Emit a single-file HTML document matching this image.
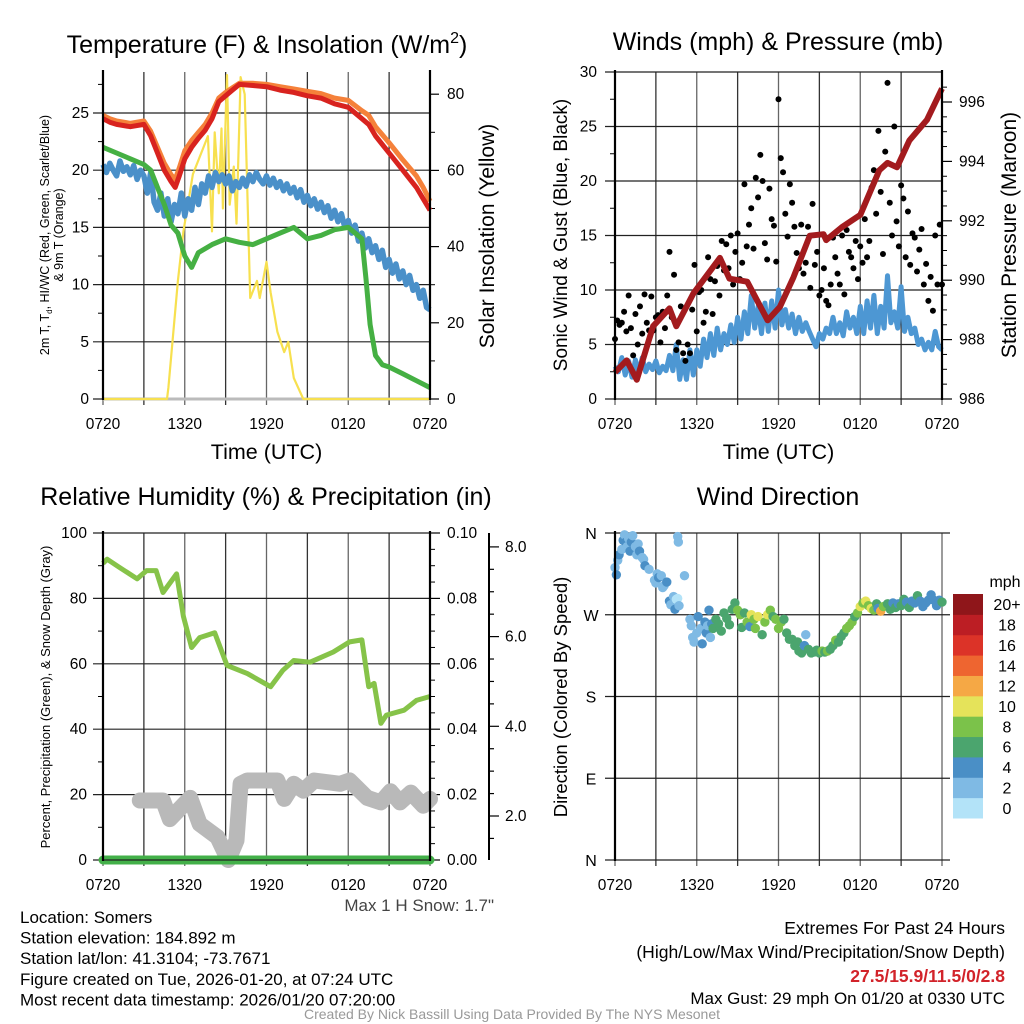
<!DOCTYPE html>
<html><head><meta charset="utf-8"><style>
html,body{margin:0;padding:0;background:#fff;}
svg{display:block;font-family:"Liberation Sans",sans-serif;}
</style></head><body>
<svg id="fig" width="1024" height="1024" viewBox="0 0 1024 1024" xmlns="http://www.w3.org/2000/svg"></svg>
<script>
// ---------- DATA ----------
const tickHours = [0, 6, 12, 18, 24];
const tickLabels = ["0720", "1320", "1920", "0120", "0720"];

// Panel 1 temperature
const tempHours = [0,0.5,1,2,3,3.5,4,4.5,5,5.3,5.6,6,6.5,7,7.5,8,8.5,9,9.5,10,11,12,13,14,15,16,17,18,19,19.5,20,21,22,23,23.5,24];
const tempRed   = [24.5,24.2,24,23.8,24,23,21.5,20,19,18.5,19.5,21,22,22.8,23.5,24.5,26,26.5,27,27.5,27.4,27.3,27,26.8,26.5,26.3,25.8,25.5,24.5,24,23,21.5,20,18.5,17.5,16.5];
const tempOrange= [24.8,24.5,24.3,24.1,24.3,23.4,22,20.6,19.6,19.2,20.2,21.7,22.6,23.3,24,25,26.3,26.8,27.2,27.6,27.6,27.5,27.3,27.1,26.9,26.7,26.3,26.1,25.2,24.8,23.8,22.4,20.9,19.5,18.5,17.3];
const dewHours = [0,1,2,3,3.5,4,4.5,5,5.5,6,6.5,7,8,9,10,11,12,13,14,15,16,17,18,18.5,19,19.3,19.6,20,20.5,21,22,23,24];
const dewGreen = [22,21.5,21,20.5,20,18.5,17,15.2,14.5,12.5,11.5,12.8,13.5,14,13.7,13.5,14,14.5,15,14,14.3,14.8,15,14.5,14,10.5,6.5,3.8,3,2.8,2.2,1.6,1];
const hiwcBlue = [20.5,19.8,20.6,20.0,19.5,20.8,19.9,20.3,19.6,20.4,19.2,20.0,
 19.5,18.0,19.8,17.2, 16.5,18.0,16.0,17.5, 15.5,17.0,16.2,18.0, 16.0,17.5,16.5,18.5,
 17.0,18.8,18.0,19.5, 18.5,19.8,19.0,19.6, 18.8,19.5,18.2,19.0, 18.5,19.3,18.6,19.6,
 19.0,19.8,19.2,18.8, 19.5,18.7,19.3,18.5, 19.0,18.2,18.8,18.0, 18.5,17.6,18.3,17.2,
 17.8,16.9,17.5,16.6, 17.2,16.3,16.9,15.8, 16.5,15.5,16.2,15.0, 15.6,14.5,15.2,13.8,
 14.5,13.2,14.0,12.8, 13.4,12.2,13.0,11.5, 12.2,11.0,11.8,10.5, 11.2,10.0,10.8,9.5,
 10.0,8.8,9.5,8.0, 7.8];
const solarHours = [0,4.7,4.8,5.5,5.9,6.6,7.7,8.0,8.2,8.5,8.7,8.8,9.1,9.3,9.6,9.8,10.1,10.4,10.8,11.3,11.5,12.0,12.3,12.8,13.3,13.6,14.0,14.7,24];
const solarVals  = [0,0,3,31,44,59,69,44,70,54,71,50,85,51,61,46,84.5,80,26.5,31,26.5,36,28,17.6,12.3,15,5.5,0,0];

// Panel 2 winds / pressure
const windSpeed = [3.0,2.5,3.8,2.2,3.5,2.0,3.6,2.4, 3.8,2.5,3.2,2.7,3.5,2.4,3.0,2.6,
 4.0,2.6,5.0,1.8,3.6,1.8,4.5,2.2, 4.5,3.0,5.5,3.8,6.0,4.0,6.5,4.5, 6.0,5.0,6.8,5.2,7.5,5.5,8.0,6.0,
 9.5,6.5,8.5,6.0,8.8,6.2,9.0,6.5, 10.0,6.8,8.2,6.5,7.8,6.0,7.5,6.2, 7.0,6.2,5.5,4.8,6.0,5.5,6.5,6.0,
 7.5,6.0,7.0,5.8,8.0,6.5,7.5,6.0, 8.5,6.0,9.0,6.5,9.5,6.0,8.5,6.5, 11.3,7.0,8.0,6.5,10.3,6.2,7.5,6.0,
 6.5,5.0,5.5,4.5,5.2,4.5,6.2,4.8, 4.5];
const gustSpeed = [5.5,7.2,6.8,7.0,8.0,6.2, 9.5,6.5,4.0,7.8,5.0,8.5, 6.0,9.6,7.0,6.3,9.4,6.3,
 7.5,7.7,5.2,8.0,6.5,9.5, 13.5,7.5,11.4,4.5,5.2,8.5, 4.2,3.5,5.0,4.2,8.2,12.3, 6.2,9.8,10.0,7.0,8.0,13.0,
 11.0,7.8,10.8,12.2,9.5,14.5, 11.8,14.2,12.0,15.0,10.5,13.5, 15.2,11.0,12.5,19.7,14.0,16.0,
 17.5,13.8,20.3,18.5,22.4,20.0, 14.3,12.8,19.3,16.5,15.9,12.6, 27.5,22.1,20.8,17.0,14.9,19.7,
 18.0,15.8,13.4,12.0,16.0,11.5, 12.5,15.8,10.2,17.9,12.3,13.5, 9.5,10.0,12.0,9.0,8.6,10.5,
 14.8,13.0,11.5,10.5,15.0,9.6, 15.5,13.5,13.0,12.0,14.5,11.0, 14.0,12.5,16.5,13.0,14.5,19.4,
 21.0,17.0,24.6,19.0,13.3,22.7, 29.0,18.0,15.0,25.0,16.3,14.0, 19.6,18.4,13.0,17.2,12.3,15.2,
 14.8,11.7,13.7,15.6,10.5,12.4, 9.0,11.2,8.1,15.0,10.5,16.0, 10.5];
const presHours = [0,0.86,1.6,2.8,4.0,4.5,5.75,7.7,8.4,9.7,11.2,12.1,13.1,14.3,15.3,15.5,16.7,18,19.4,20,20.7,21.6,22.9,24];
const presVals  = [986.9,987.3,986.65,988.45,989.05,988.45,989.55,990.75,990.05,989.95,988.65,989.1,990.1,991.5,991.55,991.35,991.8,992.2,993.7,993.95,993.8,994.7,995.4,996.45];

// Panel 3 RH / precip / snow
const rhHours = [0,0.3,1.2,2.5,3.2,3.9,4.4,5.4,5.9,6.5,7.1,8.2,9.1,10.6,12.3,13.2,14,15.2,16.9,18.1,19,19.5,19.9,20.4,20.8,22.1,23,24];
const rhVals  = [90.7,92,89.5,86,88.5,88.5,81.8,87.5,74.5,65,68,69.5,59.5,57,53,58,61,60.5,63.6,66.7,67.3,53,54,41.8,44.3,45.8,48.8,50];
const precipHours = [0, 24];
const precipVals  = [0, 0];
const snowHours = [2.7,4.4,4.9,6.4,7.1,8.4,9.2,9.8,10.1,10.6,12.8,13.3,14,14.7,15.5,17.4,18.1,19.4,20.4,21.1,21.8,22.6,23.5,24];
const snowVals  = [18.2,18.2,12.5,19,11,7,0,6,23.3,24.3,24.3,18.7,23.3,21.2,24.3,23.3,24.3,19,17.6,21,17.6,20.6,16.6,18.7];

// Panel 4 wind direction
const dirHours = [0,0.1,0.2,0.3,0.5,0.6,0.7,0.8,0.9,1.0,1.1,1.2,1.3,1.5,1.6,1.7,1.8,2.0,2.1,2.2,2.5,2.9,3.0,3.1,3.2,3.4,3.5,3.6,3.8,4.0,4.1,4.3,4.4,4.5,4.6,4.7,4.6,4.65,5.1,
 5.5,5.6,5.7,5.8,6.0,6.1,6.3,6.4,6.6,6.7,6.8,6.9,7.0,7.1,7.2,7.4,7.6,7.8,8.0,8.2,8.4,8.6,8.8,9.0,9.2,9.3,9.5,9.7,9.9,10.0,10.2,10.3,10.5,10.8,11.0,11.2,11.4,11.6,11.8,
 12.0,12.2,12.4,12.6,12.8,13.0,13.2,13.4,13.5,13.7,13.9,14.0,14.2,14.4,14.6,14.8,15.0,15.2,15.4,15.6,15.8,16.0,16.2,16.4,16.6,16.8,17.0,17.2,17.4,17.6,17.8,
 18.0,18.2,18.4,18.6,18.8,19.0,19.2,19.3,19.5,19.7,20.0,20.2,20.4,20.6,20.8,21.0,21.2,21.4,21.6,21.8,22.0,22.2,22.4,22.6,22.8,23.0,23.2,23.4,23.6,23.8,24.0];
const dirDeg = [322,314,330,336,342,352,358,350,345,354,340,350,357,345,336,348,340,333,331,324,320,308,305,315,311,313,300,302,306,285,281,290,276,287,288,280,356,350,313,
 265,258,245,240,250,268,255,238,262,250,258,275,245,260,255,265,260,252,272,266,259,276,283,275,270,256,272,262,257,270,265,255,268,248,262,270,275,268,265,
 255,262,265,250,243,243,236,240,230,228,236,248,232,228,229,231,228,230,229,230,232,236,242,240,246,250,255,258,262,268,272,
 279,283,285,280,277,275,282,277,274,279,282,276,283,278,282,280,287,284,278,285,283,291,285,279,283,286,292,286,280,286,284];
const dirSpd = [2.5,4,2.5,4,3,4,2.5,5,2.5,3,4,4.5,3,2.5,3,2.5,5,3,2.5,4,2.5,2.5,3,2.5,4,3,2.5,3,4,4,2.5,3,4,1,1.5,3,2.5,2.5,2.5,
 2.5,2.5,2.5,2.5,3,4,3,4,4,4,3,4,3,5,6,6,6,7,6,6,6,6,7,8,9,7,6,8,4,10,8,9,10,6,8,10,8,7,9,
 8,8,6,7,6,7,7,6,6,7,5,3.5,6,6,6,6,7,8,7,8,6,7,8,6,6,7,8,8,8,7,8,
 10,9,11,8,10,8,6,5,13,9,6,6,5,6,4,7,6,4,6,4,5,6,4,4,5,4,4,4,5,4,6];
const cbLabels = ["0","2","4","6","8","10","12","14","16","18","20+"];
const cbColors = ["#b3e3f8","#7fbae4","#4a8fc6","#4ba56e","#7bc24a","#e5e35a","#f5a845","#ee6530","#dc3328","#bc1e24","#8f161a"];

// ---------- DRAWING ----------
const NS = "http://www.w3.org/2000/svg";
const svg = document.getElementById("fig");
function el(tag, attrs, parent, text) {
  const e = document.createElementNS(NS, tag);
  for (const k in attrs) e.setAttribute(k, attrs[k]);
  if (text !== undefined) e.textContent = text;
  (parent || svg).appendChild(e);
  return e;
}
function txt(x, y, s, size, anchor, parent, extra) {
  const a = {x: x, y: y, "font-size": size, "text-anchor": anchor || "middle", fill: "#000"};
  if (extra) for (const k in extra) a[k] = extra[k];
  return el("text", a, parent, s);
}
function pathFrom(xs, ys, fx, fy) {
  let d = "";
  for (let i = 0; i < xs.length; i++) d += (i ? "L" : "M") + fx(xs[i]).toFixed(1) + "," + fy(ys[i]).toFixed(1);
  return d;
}
const TICK = 15.5;
function drawTimeAxis(g, x0, x1, y0, y1, fx, withTitle) {
  for (let h = 0; h <= 24; h += 3) {
    const x = fx(h);
    const l = el("line", {x1: x, y1: y0, x2: x, y2: y1 + 6, stroke: h % 6 ? "#333" : "#666", "stroke-width": 1.3}, g);
    
    
  }
  tickHours.forEach((h, i) => {
    const t = txt(fx(h), y1 + 30, tickLabels[i], TICK, "middle", g);
    
    
  });
  if (withTitle) {
    const t = txt((x0 + x1) / 2, y1 + 60, "Time (UTC)", 21.5, "middle", g);
    
    
  }
}
function hGrid(g, x0, x1, y, ext) {
  el("line", {x1: x0 - (ext||10), y1: y, x2: x1, y2: y, stroke: "#222", "stroke-width": 1.2}, g);
}

// ===== Panel 1 =====
(function(){
  const g = el("g", {});  
  const X0 = 103, X1 = 430, Y0 = 72, Y1 = 399;
  const fx = h => X0 + (X1 - X0) * h / 24;
  const fy = v => Y1 - v * 11.44;
  const fyr = v => Y1 - v * 3.81;
  drawTimeAxis(g, X0, X1, Y0, Y1, fx, true);
  for (let v = 0; v <= 25; v += 5) hGrid(g, X0, X1, fy(v));
  for (let v = 2.5; v <= 27.5; v += 5) el("line", {x1: X0-5, y1: fy(v), x2: X0, y2: fy(v), stroke:"#000"}, g);
  for (let v = 0; v <= 25; v += 5) { const t = txt(X0 - 14, fy(v) + 5, String(v), TICK, "end", g);   }
  for (let v = 0; v <= 80; v += 20) {
    el("line", {x1: X1, y1: fyr(v), x2: X1 + 9, y2: fyr(v), stroke:"#000", "stroke-width":1.2}, g);
    const t = txt(X1 + 17, fyr(v) + 5, String(v), TICK, "start", g);  
  }
  for (let v = 10; v <= 80; v += 20) el("line", {x1: X1, y1: fyr(v), x2: X1 + 5, y2: fyr(v), stroke:"#000"}, g);
  el("line", {x1: X0, y1: Y1, x2: X1, y2: Y1, stroke: "#bbb", "stroke-width": 3}, g);
  const sol = el("path", {d: pathFrom(solarHours, solarVals, fx, fyr), fill:"none", stroke:"#f7e04f", "stroke-width":2.2, "stroke-linejoin":"round"}, g);
   
  const bh = hiwcBlue.map((v, i) => i * 0.25);
  const b = el("path", {d: pathFrom(bh, hiwcBlue, fx, fy), fill:"none", stroke:"#4a90c9", "stroke-width":5.5, "stroke-linejoin":"round"}, g);
   
  const gr = el("path", {d: pathFrom(dewHours, dewGreen, fx, fy), fill:"none", stroke:"#45b043", "stroke-width":5, "stroke-linejoin":"round"}, g);
   
  const o = el("path", {d: pathFrom(tempHours, tempOrange, fx, fy), fill:"none", stroke:"#f5813a", "stroke-width":5, "stroke-linejoin":"round"}, g);
   
  const r = el("path", {d: pathFrom(tempHours, tempRed, fx, fy), fill:"none", stroke:"#d8231f", "stroke-width":5, "stroke-linejoin":"round"}, g);
   
  el("line", {x1: X0, y1: Y0 - 2, x2: X0, y2: Y1 + 1, stroke:"#000", "stroke-width":2.2}, g);
  el("line", {x1: X1, y1: Y0 - 2, x2: X1, y2: Y1 + 1, stroke:"#000", "stroke-width":2.2}, g);
  const ttl = el("text", {x: 267, y: 53, "font-size": 25, "text-anchor":"middle"}, g);
   
  ttl.innerHTML = 'Temperature (F) &amp; Insolation (W/m<tspan font-size="16" dy="-10">2</tspan><tspan dy="10">)</tspan>';
  const yt = el("text", {transform: "translate(49,235) rotate(-90)", "font-size": 12.5, "text-anchor":"middle"}, g);
   
  yt.innerHTML = '2m T, T<tspan font-size="8" dy="3">d</tspan><tspan dy="-3">, HI/WC (Red, Green, Scarlet/Blue)</tspan>';
  const yt2 = txt(0, 0, "& 9m T (Orange)", 12.5, "middle", g, {transform: "translate(63,235) rotate(-90)"});
   
  const yr = txt(0, 0, "Solar Insolation (Yellow)", 21, "middle", g, {transform: "translate(494,236) rotate(-90)"});
   
})();

// ===== Panel 2 =====
(function(){
  const g = el("g", {});  
  const X0 = 615, X1 = 942, Y0 = 72, Y1 = 399;
  const fx = h => X0 + (X1 - X0) * h / 24;
  const fy = v => Y1 - v * 10.9;
  const fyr = v => Y1 - (v - 986) * 29.7;
  drawTimeAxis(g, X0, X1, Y0, Y1, fx, true);
  for (let v = 0; v <= 30; v += 5) {
    hGrid(g, X0, X1, fy(v));
    const t = txt(X0 - 18, fy(v) + 5, String(v), TICK, "end", g);  
  }
  for (let v = 2.5; v <= 30; v += 5) el("line", {x1: X0-5, y1: fy(v), x2: X0, y2: fy(v), stroke:"#000"}, g);
  for (let v = 986; v <= 996; v += 2) {
    el("line", {x1: X1, y1: fyr(v), x2: X1 + 10, y2: fyr(v), stroke:"#000", "stroke-width":1.2}, g);
    const t = txt(X1 + 17, fyr(v) + 5, String(v), TICK, "start", g);  
  }
  for (let v = 986.5; v <= 996.5; v += 0.5) if (v % 2) el("line", {x1: X1, y1: fyr(v), x2: X1 + 5, y2: fyr(v), stroke:"#000"}, g);
  const wh = windSpeed.map((v, i) => i * 0.25);
  const w = el("path", {d: pathFrom(wh, windSpeed, fx, fy), fill:"none", stroke:"#4d97d3", "stroke-width":5, "stroke-linejoin":"round"}, g);
   
  gustSpeed.forEach((v, i) => {
    const c = el("circle", {cx: fx(i / 6), cy: fy(v), r: 3, fill: "#000"}, g);
    
    
  });
  const p = el("path", {d: pathFrom(presHours, presVals, fx, fyr), fill:"none", stroke:"#a31b1e", "stroke-width":6, "stroke-linejoin":"round"}, g);
   
  el("line", {x1: X0, y1: Y0 - 2, x2: X0, y2: Y1 + 1, stroke:"#000", "stroke-width":2.2}, g);
  el("line", {x1: X1, y1: Y0 - 2, x2: X1, y2: Y1 + 1, stroke:"#000", "stroke-width":2.2}, g);
  const ttl = txt(778, 50, "Winds (mph) & Pressure (mb)", 25, "middle", g);  
  const yt = txt(0, 0, "Sonic Wind & Gust (Blue, Black)", 19, "middle", g, {transform: "translate(567,235) rotate(-90)"});
   
  const yr = txt(0, 0, "Station Pressure (Maroon)", 21, "middle", g, {transform: "translate(1016,235) rotate(-90)"});
   
})();

// ===== Panel 3 =====
(function(){
  const g = el("g", {});  
  const X0 = 103, X1 = 430, Y0 = 533, Y1 = 860;
  const fx = h => X0 + (X1 - X0) * h / 24;
  const fy = v => Y1 - v * 3.27;
  drawTimeAxis(g, X0, X1, Y0, Y1, fx, false);
  for (let v = 0; v <= 100; v += 20) {
    hGrid(g, X0, X1, fy(v));
    const t = txt(X0 - 16, fy(v) + 5, String(v), TICK, "end", g);  
    el("line", {x1: X1, y1: fy(v), x2: X1 + 10, y2: fy(v), stroke:"#000", "stroke-width":1.2}, g);
    const t2 = txt(X1 + 17, fy(v) + 5, (v / 1000).toFixed(2), TICK, "start", g);  
  }
  for (let v = 10; v <= 90; v += 20) el("line", {x1: X0-5, y1: fy(v), x2: X0, y2: fy(v), stroke:"#000"}, g);
  for (let v = 5; v < 100; v += 5) if (v % 20) el("line", {x1: X1, y1: fy(v), x2: X1 + 5, y2: fy(v), stroke:"#000"}, g);
  const SX = 489;
  const fs = v => 905.7 - v * 44.85;
  el("line", {x1: SX, y1: Y0, x2: SX, y2: Y1, stroke:"#000", "stroke-width":2}, g);
  for (let v = 1.5; v <= 8.5; v += 0.5) {
    if (fs(v) < Y0 - 1) continue;
    const major = Math.abs(v % 2) < 0.01;
    el("line", {x1: SX, y1: fs(v), x2: SX + (major ? 10 : 5), y2: fs(v), stroke:"#000", "stroke-width":1.2}, g);
    if (major) { const t = txt(SX + 16, fs(v) + 5, v.toFixed(1), TICK, "start", g);   }
  }
  const sn = el("path", {d: pathFrom(snowHours, snowVals, fx, fy), fill:"none", stroke:"#b9b9b9", "stroke-width":16, "stroke-linejoin":"round", "stroke-linecap":"round"}, g);
   
  const rh = el("path", {d: pathFrom(rhHours, rhVals, fx, fy), fill:"none", stroke:"#86c349", "stroke-width":5, "stroke-linejoin":"round"}, g);
   
  const pr = el("path", {d: pathFrom(precipHours, precipVals, fx, v => Y1 - v * 3270), fill:"none", stroke:"#43b049", "stroke-width":9, "stroke-linecap":"round"}, g);
   
  el("line", {x1: X0, y1: Y1, x2: X1, y2: Y1, stroke:"#222", "stroke-width":1.2}, g);
  el("line", {x1: X0, y1: Y0 - 2, x2: X0, y2: Y1 + 1, stroke:"#000", "stroke-width":2.2}, g);
  el("line", {x1: X1, y1: Y0 - 2, x2: X1, y2: Y1 + 1, stroke:"#000", "stroke-width":2.2}, g);
  const ttl = txt(266, 505, "Relative Humidity (%) & Precipitation (in)", 25, "middle", g);  
  const yt = txt(0, 0, "Percent, Precipitation (Green), & Snow Depth (Gray)", 13, "middle", g, {transform: "translate(50,697) rotate(-90)"});
   
  const ms = txt(494, 911, 'Max 1 H Snow: 1.7"', 17, "end", g, {fill: "#444"});  
})();

// ===== Panel 4 =====
(function(){
  const g = el("g", {});  
  const X0 = 615, X1 = 942, Y0 = 533, Y1 = 860;
  const fx = h => X0 + (X1 - X0) * h / 24;
  const fy = d => Y1 - d * (Y1 - Y0) / 360;
  drawTimeAxis(g, X0, X1, Y0, Y1, fx, false);
  const dl = ["N", "E", "S", "W", "N"];
  dl.forEach((s, i) => {
    el("line", {x1: X0 - 10, y1: fy(i * 90), x2: X1 + 8, y2: fy(i * 90), stroke:"#222", "stroke-width":1.2}, g);
    const t = txt(591, fy(i * 90) + 6, s, 16, "middle", g);  
  });
  dirHours.forEach((h, i) => {
    const ci = Math.min(10, Math.floor(dirSpd[i] / 2));
    const c = el("circle", {cx: fx(h), cy: fy(dirDeg[i]), r: 4.7, fill: cbColors[ci]}, g);
    
    
  });
  el("line", {x1: X0, y1: Y0 - 2, x2: X0, y2: Y1 + 1, stroke:"#000", "stroke-width":2.2}, g);
  const ttl = txt(778, 505, "Wind Direction", 25, "middle", g);  
  const yt = txt(0, 0, "Direction (Colored By Speed)", 18.5, "middle", g, {transform: "translate(567,697) rotate(-90)"});
   
  const cb = el("g", {}, g);  
  const bh = (818 - 594) / cbColors.length;
  cbColors.forEach((c, i) => {
    const y = 818 - (i + 1) * bh;
    const r = el("rect", {x: 953, y: y, width: 30, height: bh + 0.5, fill: c}, cb);
     
    const t = txt(1007, y + bh / 2 + 6, cbLabels[i], 16, "middle", cb);  
  });
  const u = txt(1005, 587, "mph", 16, "middle", cb);  
})();

// ===== Footer text =====
(function(){
  const g = el("g", {});  
  const lines = ["Location: Somers", "Station elevation: 184.892 m", "Station lat/lon: 41.3104; -73.7671",
    "Figure created on Tue, 2026-01-20, at 07:24 UTC", "Most recent data timestamp: 2026/01/20 07:20:00"];
  lines.forEach((s, i) => { const t = txt(20, 923 + i * 20.6, s, 17, "start", g);   });
  const r1 = txt(1005, 934, "Extremes For Past 24 Hours", 17.5, "end", g);  
  const r2 = txt(1005, 958, "(High/Low/Max Wind/Precipitation/Snow Depth)", 17.5, "end", g);  
  const r3 = txt(1005, 982, "27.5/15.9/11.5/0/2.8", 17.5, "end", g, {fill: "#d2232a", "font-weight": "bold"});  
  const r4 = txt(1005, 1004, "Max Gust: 29 mph On 01/20 at 0330 UTC", 17, "end", g);  
  const c = txt(512, 1019, "Created By Nick Bassill Using Data Provided By The NYS Mesonet", 14, "middle", g, {fill: "#999"});  
})();
</script>
</body></html>
